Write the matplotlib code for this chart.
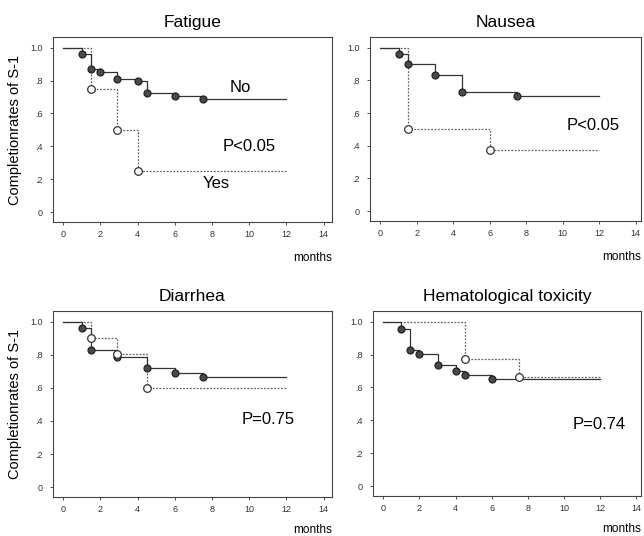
import matplotlib
matplotlib.use("Agg")
import matplotlib.pyplot as plt

plt.rcParams['font.family'] = ['Liberation Sans', 'DejaVu Sans']

titles = ["Fatigue", "Nausea", "Diarrhea", "Hematological toxicity"]

# Fatigue
fat_no_t = [0, 1, 1.5, 2, 2.9, 4, 4.5, 6, 7.5, 12]
fat_no_s = [1.0, 0.963, 0.868, 0.852, 0.811, 0.795, 0.726, 0.705, 0.685, 0.685]
fat_yes_t = [0, 1.5, 2.9, 4, 12]
fat_yes_s = [1.0, 0.75, 0.50, 0.25, 0.25]

# Nausea
nau_no_t = [0, 1, 1.5, 3, 4.5, 7.5, 12]
nau_no_s = [1.0, 0.964, 0.90, 0.833, 0.728, 0.704, 0.704]
nau_yes_t = [0, 1.5, 6, 12]
nau_yes_s = [1.0, 0.504, 0.375, 0.375]

# Diarrhea
dia_no_t = [0, 1, 1.5, 2.9, 4.5, 6, 7.5, 12]
dia_no_s = [1.0, 0.964, 0.828, 0.786, 0.719, 0.693, 0.668, 0.668]
dia_yes_t = [0, 1.5, 2.9, 4.5, 12]
dia_yes_s = [1.0, 0.903, 0.806, 0.60, 0.60]

# Hematological toxicity
hem_no_t = [0, 1, 1.5, 2, 3, 4, 4.5, 6, 12]
hem_no_s = [1.0, 0.957, 0.827, 0.804, 0.737, 0.698, 0.676, 0.652, 0.652]
hem_yes_t = [0, 4.5, 7.5, 12]
hem_yes_s = [1.0, 0.774, 0.664, 0.664]

p_texts = ["P<0.05", "P<0.05", "P=0.75", "P=0.74"]
p_pos = [(10.0, 0.40), (11.65, 0.526), (11.0, 0.408), (11.95, 0.375)]

xticks = [0, 2, 4, 6, 8, 10, 12, 14]
yticks = [0, 0.2, 0.4, 0.6, 0.8, 1.0]
ytick_labels = ["0", ".2", ".4", ".6", ".8", "1.0"]

curves = [
    (fat_no_t, fat_no_s, fat_yes_t, fat_yes_s),
    (nau_no_t, nau_no_s, nau_yes_t, nau_yes_s),
    (dia_no_t, dia_no_s, dia_yes_t, dia_yes_s),
    (hem_no_t, hem_no_s, hem_yes_t, hem_yes_s),
]

W, H = 644, 536
fig = plt.figure(figsize=(W / 100, H / 100), dpi=100)

boxes = [(53, 332, 37, 222), (370, 641, 37, 221), (53, 332, 311, 497), (373, 641, 311, 496)]
xlims = [(-0.55, 14.45), (-0.57, 14.3), (-0.55, 14.45), (-0.57, 14.25)]

for i, (l, r, t, b) in enumerate(boxes):
    ax = fig.add_axes([l / W, 1 - b / H, (r - l) / W, (b - t) / H])
    no_t, no_s, yes_t, yes_s = curves[i]
    ax.step(yes_t, yes_s, where='post', color='#666666', lw=0.9, ls=(0, (1.5, 1.2)), zorder=2)
    ax.step(no_t, no_s, where='post', color='#333333', lw=0.9, zorder=3)
    ax.plot(no_t[1:-1], no_s[1:-1], 'o', ms=5, mfc='#4a4a4a', mec='#222222', mew=0.9, zorder=4)
    ax.plot(yes_t[1:-1], yes_s[1:-1], 'o', ms=5.5, mfc='white', mec='#333333', mew=0.9, zorder=5)
    ax.set_xlim(*xlims[i])
    ax.set_ylim(-0.06, 1.065)
    ax.set_xticks(xticks)
    ax.set_xticklabels([str(v) for v in xticks])
    ax.set_yticks(yticks)
    ax.set_yticklabels(ytick_labels)
    ax.tick_params(axis='both', labelsize=6.5, length=2.5, width=0.6, colors='#333333')
    ax.tick_params(axis='y', pad=5)
    ax.tick_params(axis='x', pad=3)
    for s in ax.spines.values():
        s.set_color('#444444')
        s.set_linewidth(0.8)
    ax.set_title(titles[i], fontsize=12.5, pad=7)
    ax.text(p_pos[i][0], p_pos[i][1], p_texts[i], fontsize=12, ha='center', va='center')
    if i % 2 == 0:
        ax.set_ylabel("Completionrates of S-1", fontsize=10.5, labelpad=6)
    if i == 0:
        ax.text(9.5, 0.756, "No", fontsize=12, ha='center', va='center')
        ax.text(8.2, 0.177, "Yes", fontsize=12, ha='center', va='center')
    # months label
    ax.text(1.0, -(258 - 222 if i < 2 else 530 - 497) / (b - t),
            "months", transform=ax.transAxes, fontsize=8.5, ha='right', va='center')

fig.savefig("out.png", dpi=100, facecolor='white')
